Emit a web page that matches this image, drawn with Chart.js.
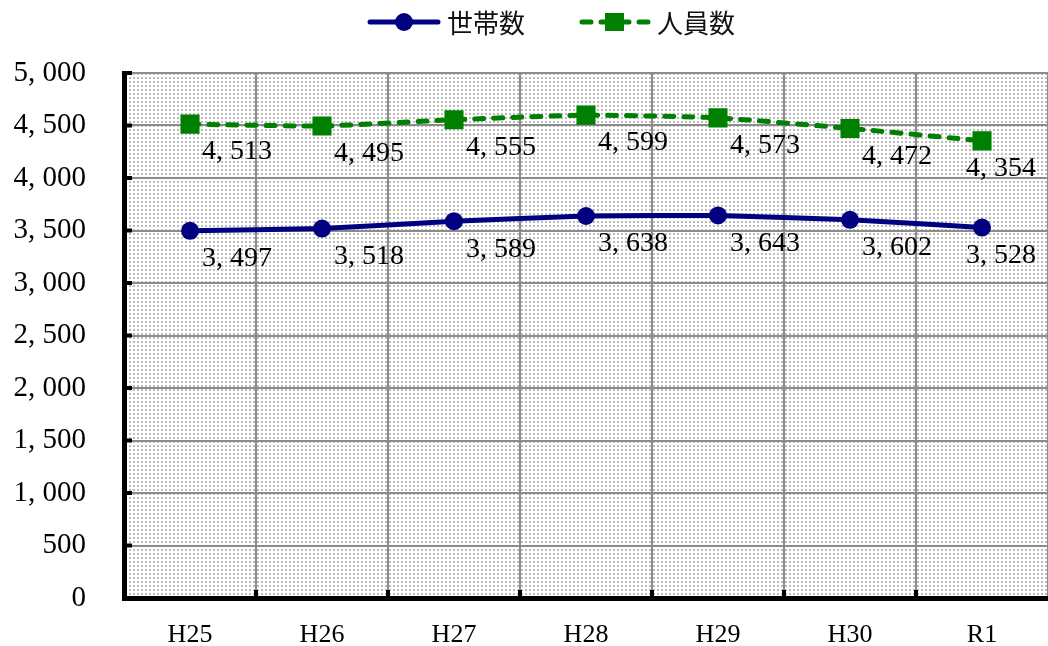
<!DOCTYPE html>
<html>
<head>
<meta charset="utf-8">
<script src="https://cdn.jsdelivr.net/npm/chart.js@4"></script>
<style>
html,body{margin:0;padding:0;background:#fff;}
#wrap{width:1048px;height:646px;}
</style>
</head>
<body>
<div id="wrap"><canvas id="c" width="1048" height="646"></canvas></div>
<script>
const categories = ['H25','H26','H27','H28','H29','H30','R1'];
const households = [3497,3518,3589,3638,3643,3602,3528];
const members = [4513,4495,4555,4599,4573,4472,4354];
const seriesNames = ['世帯数','人員数'];
const yTicks = [0,500,1000,1500,2000,2500,3000,3500,4000,4500,5000];

const NAVY = '#000080';
const GREEN = '#008000';
const SERIF = '"Liberation Serif","DejaVu Serif",serif';
const CJK = '"Noto Sans CJK JP","Noto Sans CJK SC",sans-serif';

function fmt(v){
  return Math.round(v).toString().replace(/\B(?=(\d{3})+(?!\d))/g, ', ');
}

function makePattern(ctx){
  const p = document.createElement('canvas');
  p.width = 4; p.height = 4;
  const g = p.getContext('2d');
  g.fillStyle = '#ffffff'; g.fillRect(0,0,4,4);
  g.fillStyle = '#bcbcbc';
  g.fillRect(1,1,2,2);
  return ctx.createPattern(p,'repeat');
}

const bgPlugin = {
  id:'bg',
  beforeDraw(chart){
    const {ctx, chartArea:a} = chart;
    ctx.save();
    ctx.fillStyle = '#fff';
    ctx.fillRect(0,0,chart.width,chart.height);
    ctx.fillStyle = makePattern(ctx);
    ctx.fillRect(a.left,a.top,a.right-a.left,a.bottom-a.top);
    ctx.restore();
  }
};

const innerTicks = {
  id:'innerTicks',
  afterDatasetsDraw(chart){
    const {ctx, chartArea:a, scales} = chart;
    ctx.save();
    ctx.fillStyle = '#000';
    scales.y.ticks.forEach(t=>{
      const y = scales.y.getPixelForValue(t.value);
      ctx.fillRect(a.left, y-2, 8, 4);
    });
    const xs = scales.x;
    for(let i=1;i<categories.length;i++){
      const x = (xs.getPixelForValue(i-1)+xs.getPixelForValue(i))/2;
      ctx.fillRect(x-2, a.bottom-8, 4, 8);
    }
    ctx.restore();
  }
};

const dataLabels = {
  id:'dataLabels',
  afterDatasetsDraw(chart){
    const {ctx} = chart;
    ctx.save();
    ctx.font = '28px ' + SERIF;
    ctx.fillStyle = '#000';
    ctx.textAlign = 'center';
    ctx.textBaseline = 'middle';
    chart.data.datasets.forEach((ds,di)=>{
      const meta = chart.getDatasetMeta(di);
      meta.data.forEach((pt,i)=>{
        const txt = fmt(ds.data[i]);
        const w = ctx.measureText(txt).width;
        let x = pt.x + 47;
        if (x + w/2 > chart.width - 12) x = chart.width - 12 - w/2;
        ctx.fillText(txt, x, pt.y + 28);
      });
    });
    ctx.restore();
  }
};

const legendPlugin = {
  id:'customLegend',
  afterDraw(chart){
    const {ctx} = chart;
    const y = 22;
    ctx.save();
    ctx.strokeStyle = NAVY; ctx.lineWidth = 5; ctx.lineCap = 'round';
    ctx.beginPath(); ctx.moveTo(370,y); ctx.lineTo(438,y); ctx.stroke();
    ctx.fillStyle = NAVY;
    ctx.beginPath(); ctx.arc(404,y,9,0,Math.PI*2); ctx.fill();
    ctx.strokeStyle = GREEN; ctx.setLineDash([9,10]);
    ctx.beginPath(); ctx.moveTo(582,y); ctx.lineTo(648,y); ctx.stroke();
    ctx.setLineDash([]);
    ctx.fillStyle = GREEN;
    ctx.fillRect(605,y-9,19,18);
    ctx.fillStyle = '#111';
    ctx.font = '26px ' + CJK;
    ctx.textBaseline = 'middle';
    ctx.textAlign = 'left';
    ctx.fillText(chart.data.datasets[0].label, 447, y+1);
    ctx.fillText(chart.data.datasets[1].label, 657, y+1);
    ctx.restore();
  }
};

new Chart(document.getElementById('c'), {
  type:'line',
  data:{
    labels:categories,
    datasets:[
      {label:seriesNames[0], data:households, borderColor:NAVY, backgroundColor:NAVY,
       borderWidth:5, pointStyle:'circle', pointRadius:9, pointHoverRadius:9,
       pointBackgroundColor:NAVY, pointBorderColor:NAVY, pointBorderWidth:0, tension:0.15},
      {label:seriesNames[1], data:members, borderColor:GREEN, backgroundColor:GREEN,
       borderWidth:5, borderDash:[9,10], borderCapStyle:'round', pointStyle:'rect', pointRadius:13.5, pointHoverRadius:13.5,
       pointBackgroundColor:GREEN, pointBorderColor:GREEN, pointBorderWidth:0, tension:0.15}
    ]
  },
  options:{
    responsive:false,
    animation:false,
    layout:{autoPadding:false, padding:{top:73,right:0,left:0,bottom:0}},
    plugins:{legend:{display:false}, tooltip:{enabled:false}},
    scales:{
      x:{
        offset:true,
        grid:{offset:true, color:'#8c8c8c', lineWidth:2, drawTicks:false},
        border:{color:'#000', width:5},
        ticks:{font:{family:SERIF,size:26}, color:'#000', padding:22},
        afterFit(s){ s.height = 48; s.paddingLeft = 0; s.paddingRight = 0; }
      },
      y:{
        min:0, max:5000,
        afterBuildTicks(s){ s.ticks = yTicks.map(v=>({value:v})); },
        grid:{color:'#8c8c8c', lineWidth:2, drawTicks:false},
        border:{color:'#000', width:5},
        ticks:{font:{family:SERIF,size:29}, color:'#000', padding:38, callback:(v)=>fmt(v)},
        afterFit(s){ s.width = 124; s.paddingTop = 0; s.paddingBottom = 0; }
      }
    }
  },
  plugins:[bgPlugin, innerTicks, dataLabels, legendPlugin]
});
</script>
</body>
</html>
